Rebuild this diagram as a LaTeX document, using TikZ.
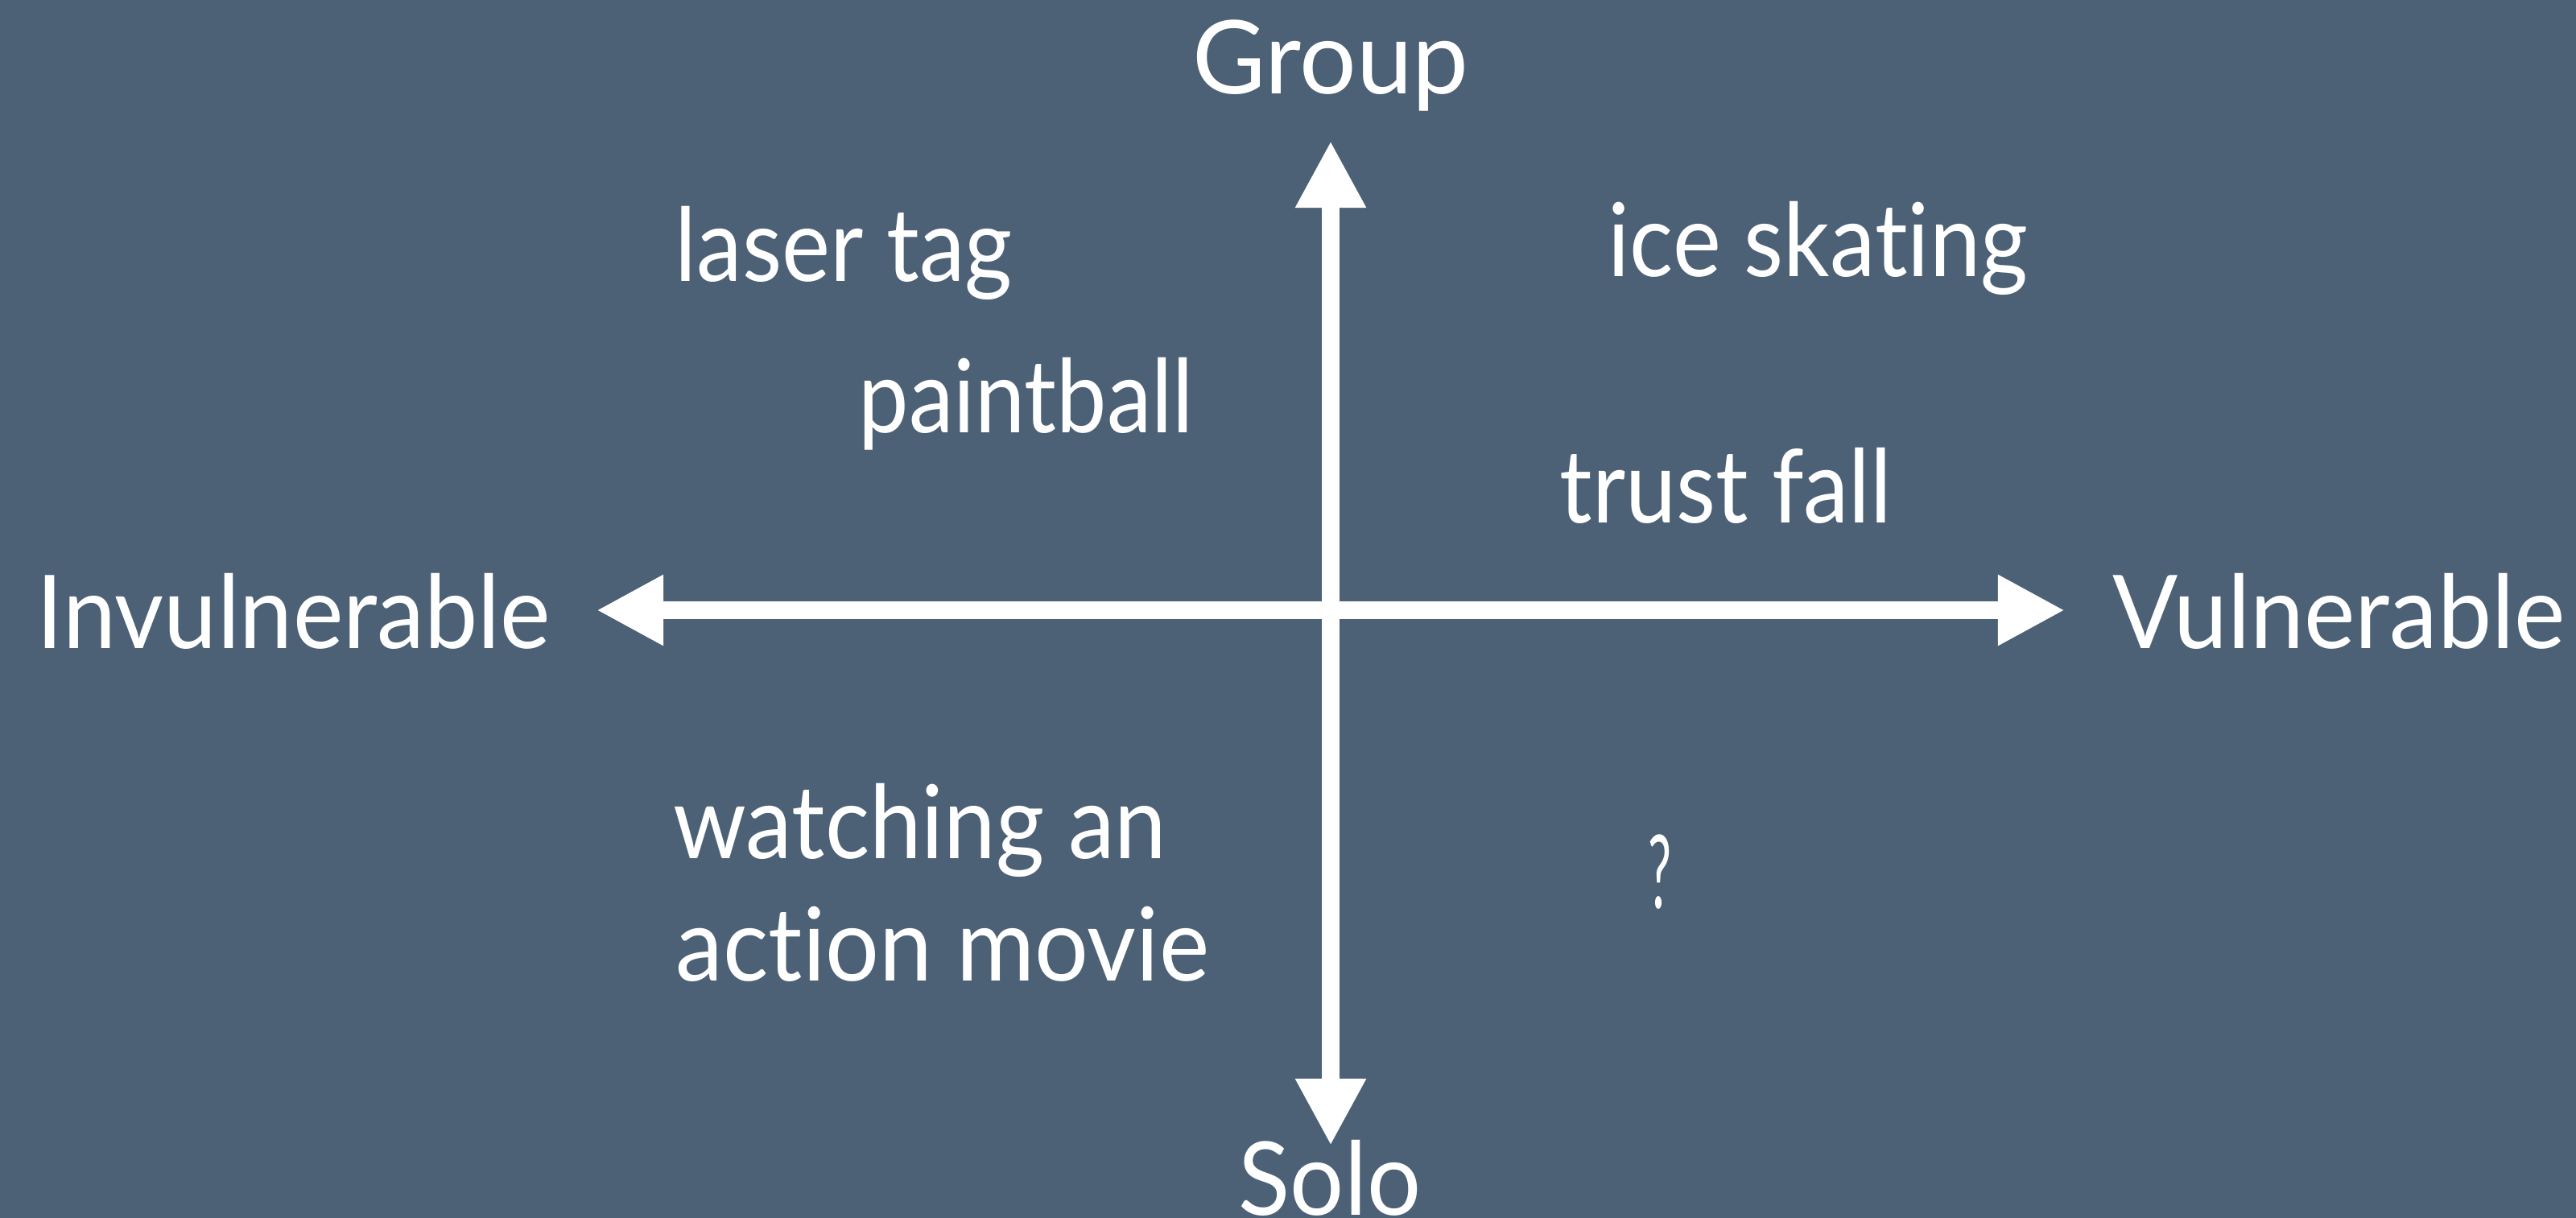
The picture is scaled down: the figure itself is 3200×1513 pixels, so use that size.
\documentclass[tikz,border=0pt]{standalone}
\usepackage{fontspec}
\usepackage{graphicx}
\setmainfont[Ligatures=NoCommon]{Lato}
\usetikzlibrary{arrows.meta}
\definecolor{bgblue}{RGB}{76,97,118}
\newcommand{\fitwidth}[2]{\resizebox{#1}{\height}{#2}}
\tikzset{
  axis/.style={draw=white, line width=0.22cm, {Triangle[length=0.83cm,width=0.82cm]}-{Triangle[length=0.83cm,width=0.82cm]}},
  pole/.style={text=white, inner sep=0pt, anchor=base, font=\fontsize{36}{43}\selectfont},
  item/.style={text=white, inner sep=0pt, anchor=base west, font=\fontsize{36}{43}\selectfont},
}
\begin{document}
\begin{tikzpicture}[x=0.01cm,y=-0.01cm]
\fill[bgblue] (0,0) rectangle (3200,1513);
\useasboundingbox (0,0) rectangle (3200,1513);
\coordinate (L) at (741,758);
\coordinate (R) at (2565,758);
\coordinate (T) at (1653,175);
\coordinate (B) at (1653,1423);
\draw[axis] (L) -- (R);
\draw[axis] (T) -- (B);
\node[pole] (group) at (1653,117) {\fitwidth{3.43cm}{Group}};
\node[pole] (solo) at (1652,1509) {\fitwidth{2.26cm}{Solo}};
\node[pole, anchor=base west] (invuln) at (45,806) {\fitwidth{6.38cm}{Invulnerable}};
\node[pole, anchor=base west] (vuln) at (2624,806) {\fitwidth{5.62cm}{Vulnerable}};
\node[item] (laser) at (838,350) {\fitwidth{4.19cm}{laser tag}};
\node[item] (paint) at (1066,538) {\fitwidth{4.16cm}{paintball}};
\node[item] (ice) at (1997,344) {\fitwidth{5.21cm}{ice skating}};
\node[item] (trust) at (1937,650) {\fitwidth{4.12cm}{trust fall}};
\node[item] (watch1) at (836,1067) {\fitwidth{6.12cm}{watching an}};
\node[item] (watch2) at (839,1218) {\fitwidth{6.62cm}{action movie}};
\node[item] (quest) at (2047,1128) {\fitwidth{0.29cm}{?}};
\end{tikzpicture}
\end{document}
